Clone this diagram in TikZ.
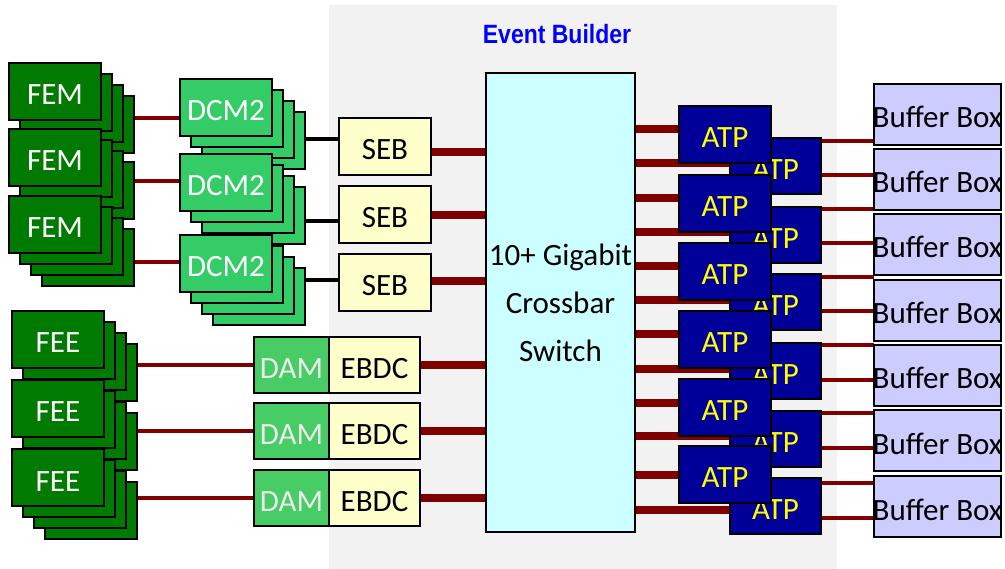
\documentclass[tikz,border=0pt]{standalone}
\usepackage{fontspec}
\usepackage{graphicx}
\setmainfont{Carlito}
\newfontfamily\headfont{Liberation Sans}
\usetikzlibrary{positioning}
\definecolor{femgreen}{RGB}{0,122,0}
\definecolor{dcmgreen}{RGB}{51,204,102}
\definecolor{damgreen}{RGB}{72,204,102}
\definecolor{damtext}{RGB}{235,235,235}
\definecolor{pale}{RGB}{255,255,204}
\definecolor{cyanpale}{RGB}{204,255,255}
\definecolor{atpblue}{RGB}{0,0,153}
\definecolor{atptext}{RGB}{255,255,0}
\definecolor{lavender}{RGB}{204,204,255}
\definecolor{linkred}{RGB}{128,0,0}
\definecolor{backgray}{RGB}{242,242,242}
\definecolor{titleblue}{RGB}{0,0,255}
\pgfdeclarelayer{backdrop}
\pgfdeclarelayer{links}
\pgfsetlayers{backdrop,links,main}
\tikzset{
  unit/.style={draw=black,line width=2.2pt,inner sep=0pt,outer sep=0pt,
               anchor=north west,minimum width=92pt,minimum height=57pt,
               text height=27pt,text depth=0pt},
  fem/.style={unit,fill=femgreen,text=white},
  dcm/.style={unit,fill=dcmgreen,text=white},
  seb/.style={unit,fill=pale},
  dam/.style={unit,fill=damgreen,text=damtext,minimum width=75pt,minimum height=56pt},
  ebdc/.style={unit,fill=pale,minimum width=91pt,minimum height=56pt},
  atp/.style={unit,fill=atpblue,text=atptext},
  bufbox/.style={unit,fill=lavender,minimum width=127pt,minimum height=61pt},
  switchbox/.style={draw=black,line width=2.2pt,fill=cyanpale,inner sep=0pt,
                    outer sep=0pt,anchor=north west,minimum width=149pt,
                    minimum height=459pt,align=center,
                    font=\fontsize{31}{48}\selectfont},
  thicklink/.style={linkred,line width=8pt},
  thinlink/.style={linkred,line width=3.5pt},
  bblink/.style={linkred,line width=4pt},
  seblink/.style={black,line width=3.5pt},
  every picture/.style={line cap=butt,line join=miter}}
\newcommand{\cardstack}[5]{%
  \foreach \k in {3,2,1}{\node[#4] (#1s\k) at ({#2+11*\k},{#3+11*\k}) {};}
  \node[#4] (#1) at (#2,#3) {#5};}

\begin{document}
\begin{tikzpicture}[x=1pt,y=-1pt,font=\fontsize{31}{37}\selectfont]
  \useasboundingbox (0,0) rectangle (1005,569);
  \begin{pgfonlayer}{backdrop}
    \fill[backgray] (329,5) rectangle (837,569);
  \end{pgfonlayer}
  \node[text=titleblue,font=\headfont\bfseries\fontsize{23}{28}\selectfont]
    (title) at (557,34) {\scalebox{1}[1.15]{Event Builder}};

  \cardstack{fem1}{9}{63}{fem}{FEM}
  \cardstack{fem2}{9}{129}{fem}{FEM}
  \cardstack{fem3}{9}{196}{fem}{FEM}
  \cardstack{dcm1}{180}{79}{dcm}{DCM2}
  \cardstack{dcm2}{180}{154}{dcm}{DCM2}
  \cardstack{dcm3}{180}{235}{dcm}{DCM2}
  \cardstack{fee1}{12}{311}{fem}{FEE}
  \cardstack{fee2}{12}{380}{fem}{FEE}
  \cardstack{fee3}{12}{449}{fem}{FEE}

  \node[seb] (seb1) at (339,118) {SEB};
  \node[seb] (seb2) at (339,186) {SEB};
  \node[seb] (seb3) at (339,254) {SEB};
  \node[dam] (dam1) at (254,337) {DAM}; \node[ebdc,right=0pt of dam1] (ebdc1) {EBDC};
  \node[dam] (dam2) at (254,403) {DAM}; \node[ebdc,right=0pt of dam2] (ebdc2) {EBDC};
  \node[dam] (dam3) at (254,470) {DAM}; \node[ebdc,right=0pt of dam3] (ebdc3) {EBDC};

  \node[switchbox] (sw) at (486,73) {10+ Gigabit\\Crossbar\\Switch};

  \foreach \i/\t in {1/138,2/207,3/274,4/343,5/411,6/478}
    \node[atp,minimum width=91pt,minimum height=56pt] (atpr\i) at (730,\t) {ATP};
  \foreach \i/\t in {1/106,2/175,3/243,4/311,5/379,6/446}
    \node[atp] (atpl\i) at (679,\t) {ATP};
  \foreach \i/\t in {1/84,2/149,3/214,4/280,5/345,6/410,7/476}
    \node[bufbox,label={[text height=27pt,text depth=0pt]center:Buffer Box}]
      (bb\i) at (874,\t) {};

  \begin{pgfonlayer}{links}
    \foreach \i/\y in {1/118,2/181,3/262}
      \draw[thinlink] (fem\i s3.east |- 0,\y) -- (dcm\i.west |- 0,\y);
    \foreach \i/\y in {1/139,2/221,3/280}
      \draw[seblink] (dcm\i s3.east |- 0,\y) -- (seb\i.west |- 0,\y);
    \foreach \i/\y in {1/152,2/215,3/281}
      \draw[thicklink] (seb\i.east |- 0,\y) -- (sw.west |- 0,\y);
    \foreach \i in {1,2,3}{
      \draw[thinlink] (fee\i s3.east |- dam\i.west) -- (dam\i.west);
      \draw[thicklink] (ebdc\i.east) -- (sw.west |- ebdc\i.east);}
    \foreach \i/\yl/\yr in {1/129/163,2/198/232,3/266/300,4/334/369,5/403/436,6/475/510}{
      \draw[thicklink] (sw.east |- 0,\yl) -- (atpl\i.west |- 0,\yl);
      \draw[thicklink] (sw.east |- 0,\yr) -- (atpr\i.west |- 0,\yr);}
    \foreach \i/\ya/\pa/\yb/\pb in {1/141/1/175/2,2/209/2/243/3,3/277/4/311/4,
                                    4/345/5/380/5,5/413/6/448/6,6/483/7/518/7}{
      \draw[bblink] (atpr\i.east |- 0,\ya) -- (bb\pa.west |- 0,\ya);
      \draw[bblink] (atpr\i.east |- 0,\yb) -- (bb\pb.west |- 0,\yb);}
  \end{pgfonlayer}
\end{tikzpicture}
\end{document}
